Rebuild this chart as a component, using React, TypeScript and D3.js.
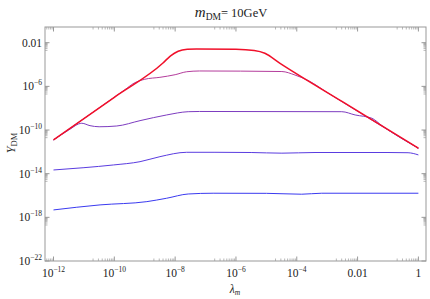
import React from "react";
import * as d3 from "d3";

// log10(lambda) and log10(Y)
const redX = [-12, -10, -8.4, -8.15, -7.9, -7.6, -7.3, -6.0, -5.4, -5.05, -4.55, -2.5, 0];
const redY = [-10.91, -7.0, -3.86, -3.2, -2.78, -2.6, -2.57, -2.6, -2.72, -2.97, -3.89, -7.4, -11.67];
const magX = [-12, -10.5, -9.65, -9.35, -9.0, -8.5, -8.0, -7.62, -7.2, -4.49, -4.06, -3.6, -3.0, 0];
const magY = [-10.91, -7.97, -6.3, -5.7, -5.35, -5.17, -4.93, -4.66, -4.59, -4.64, -4.96, -5.5, -6.56, -11.67];
const purX = [-12, -11.5, -11.07, -10.8, -10.5, -9.92, -9.155, -8.28, -7.57, -7.2, -2.52, -2.08, -1.53, -1.2, 0];
const purY = [-10.91, -10.0, -9.38, -9.6, -9.7, -9.63, -9.14, -8.62, -8.32, -8.3, -8.32, -8.62, -8.92, -9.6, -11.67];
const blu1X = [-12, -11, -10.03, -9.155, -8.5, -7.62, -6.69, -5.5, -4.49, -3.4, -1, -0.34, 0];
const blu1Y = [-13.66, -13.45, -13.2, -12.9, -12.44, -12.04, -12.04, -12.06, -12.12, -12.06, -12.06, -12.08, -12.28];
const blu2X = [-12, -10.47, -8.93, -8.28, -7.57, -6.75, -5, -3.84, -3.18, 0];
const blu2Y = [-17.32, -16.86, -16.56, -16.25, -15.86, -15.79, -15.8, -15.88, -15.79, -15.79];

const xTickExp = [-12, -10, -8, -6, -4, -2, 0];
const xTickLabels = ["10|−12", "10|−10", "10|−8", "10|−6", "10|−4", "0.01", "1"];
const yTickExp = [-2, -6, -10, -14, -18, -22];
const yTickLabels = ["0.01", "10|−6", "10|−10", "10|−14", "10|−18", "10|−22"];

const series = [
  { xs: blu2X, ys: blu2Y, color: "#3a3af0", w: 1 },
  { xs: blu1X, ys: blu1Y, color: "#5a3ce0", w: 1 },
  { xs: purX, ys: purY, color: "#7d3cc0", w: 1 },
  { xs: magX, ys: magY, color: "#b43c9c", w: 1 },
  { xs: redX, ys: redY, color: "#f0102a", w: 1.5 },
];

const L = 45, R = 426, T = 27, B = 261;
const FONT = "'Liberation Serif', 'DejaVu Serif', serif";

function Label({ text, x, y, anchor }: { text: string; x: number; y: number; anchor: string }) {
  const parts = text.split("|");
  return (
    <text x={x} y={y} textAnchor={anchor} fontFamily={FONT} fontSize={11.5} fill="#222">
      {parts[0]}
      {parts.length > 1 && (
        <tspan dy={-5} fontSize={7.5}>{parts[1]}</tspan>
      )}
    </text>
  );
}

export default function App() {
  const x = d3.scaleLog().domain([10 ** -12.28, 10 ** 0.25]).range([L, R]);
  const y = d3.scaleLog().domain([1e-22, 10 ** -0.56]).range([B, T]);
  const line = d3
    .line<[number, number]>()
    .x((d) => x(10 ** d[0]))
    .y((d) => y(10 ** d[1]))
    .curve(d3.curveMonotoneX);

  const xMinor: number[] = [];
  for (let k = -13; k <= 0; k += 2) for (let m = 2; m <= 9; m++) {
    const v = m * 10 ** k;
    if (x(v) > L && x(v) < R) xMinor.push(v);
  }
  const yMinor: number[] = [];
  for (let k = -23; k <= -2; k += 4) for (let m = 2; m <= 9; m++) {
    const v = m * 10 ** k;
    if (y(v) > T && y(v) < B) yMinor.push(v);
  }
  const ax = "#999";

  return (
    <svg width={430} height={299} style={{ position: "absolute", left: 0, top: 0 }}>
      <rect x={0} y={0} width={430} height={299} fill="white" />
      <rect x={L} y={T} width={R - L} height={B - T} fill="none" stroke={ax} strokeWidth={1} />
      {xTickExp.map((e) => (
        <g key={"xt" + e}>
          <line x1={x(10 ** e)} x2={x(10 ** e)} y1={B} y2={B - 4.5} stroke={ax} />
          <line x1={x(10 ** e)} x2={x(10 ** e)} y1={T} y2={T + 4.5} stroke={ax} />
        </g>
      ))}
      {xMinor.map((v, i) => (
        <g key={"xm" + i}>
          <line x1={x(v)} x2={x(v)} y1={B} y2={B - 2.5} stroke={ax} strokeWidth={0.7} />
          <line x1={x(v)} x2={x(v)} y1={T} y2={T + 2.5} stroke={ax} strokeWidth={0.7} />
        </g>
      ))}
      {yTickExp.map((e) => (
        <g key={"yt" + e}>
          <line x1={L} x2={L + 4.5} y1={y(10 ** e)} y2={y(10 ** e)} stroke={ax} />
          <line x1={R} x2={R - 4.5} y1={y(10 ** e)} y2={y(10 ** e)} stroke={ax} />
        </g>
      ))}
      {yMinor.map((v, i) => (
        <g key={"ym" + i}>
          <line x1={L} x2={L + 2.5} y1={y(v)} y2={y(v)} stroke={ax} strokeWidth={0.7} />
          <line x1={R} x2={R - 2.5} y1={y(v)} y2={y(v)} stroke={ax} strokeWidth={0.7} />
        </g>
      ))}
      {xTickLabels.map((t, i) => (
        <Label key={"xl" + i} text={t} x={x(10 ** xTickExp[i])} y={277} anchor="middle" />
      ))}
      {yTickLabels.map((t, i) => (
        <Label key={"yl" + i} text={t} x={42} y={y(10 ** yTickExp[i]) + 4} anchor="end" />
      ))}
      {series.map((s, i) => (
        <path
          key={"s" + i}
          d={line(s.xs.map((v, j) => [v, s.ys[j]] as [number, number])) || ""}
          fill="none"
          stroke={s.color}
          strokeWidth={s.w}
        />
      ))}
      <text x={231} y={17} textAnchor="middle" fontFamily={FONT} fontSize={12.5} fill="#222">
        <tspan fontStyle="italic" fontSize={15}>m</tspan>
        <tspan fontSize={9.5} dy={3}>DM</tspan>
        <tspan dy={-3}>= 10GeV</tspan>
      </text>
      <text x={235} y={293} textAnchor="middle" fontFamily={FONT} fontSize={11.5} fill="#222">
        <tspan fontStyle="italic">λ</tspan>
        <tspan fontSize={7.5} dy={2} fontStyle="italic">m</tspan>
      </text>
      <text transform="translate(15,143) rotate(-90)" textAnchor="middle" fontFamily={FONT} fontSize={12} fill="#222">
        <tspan fontStyle="italic">Y</tspan>
        <tspan fontSize={8.5} dy={2}>DM</tspan>
      </text>
    </svg>
  );
}
